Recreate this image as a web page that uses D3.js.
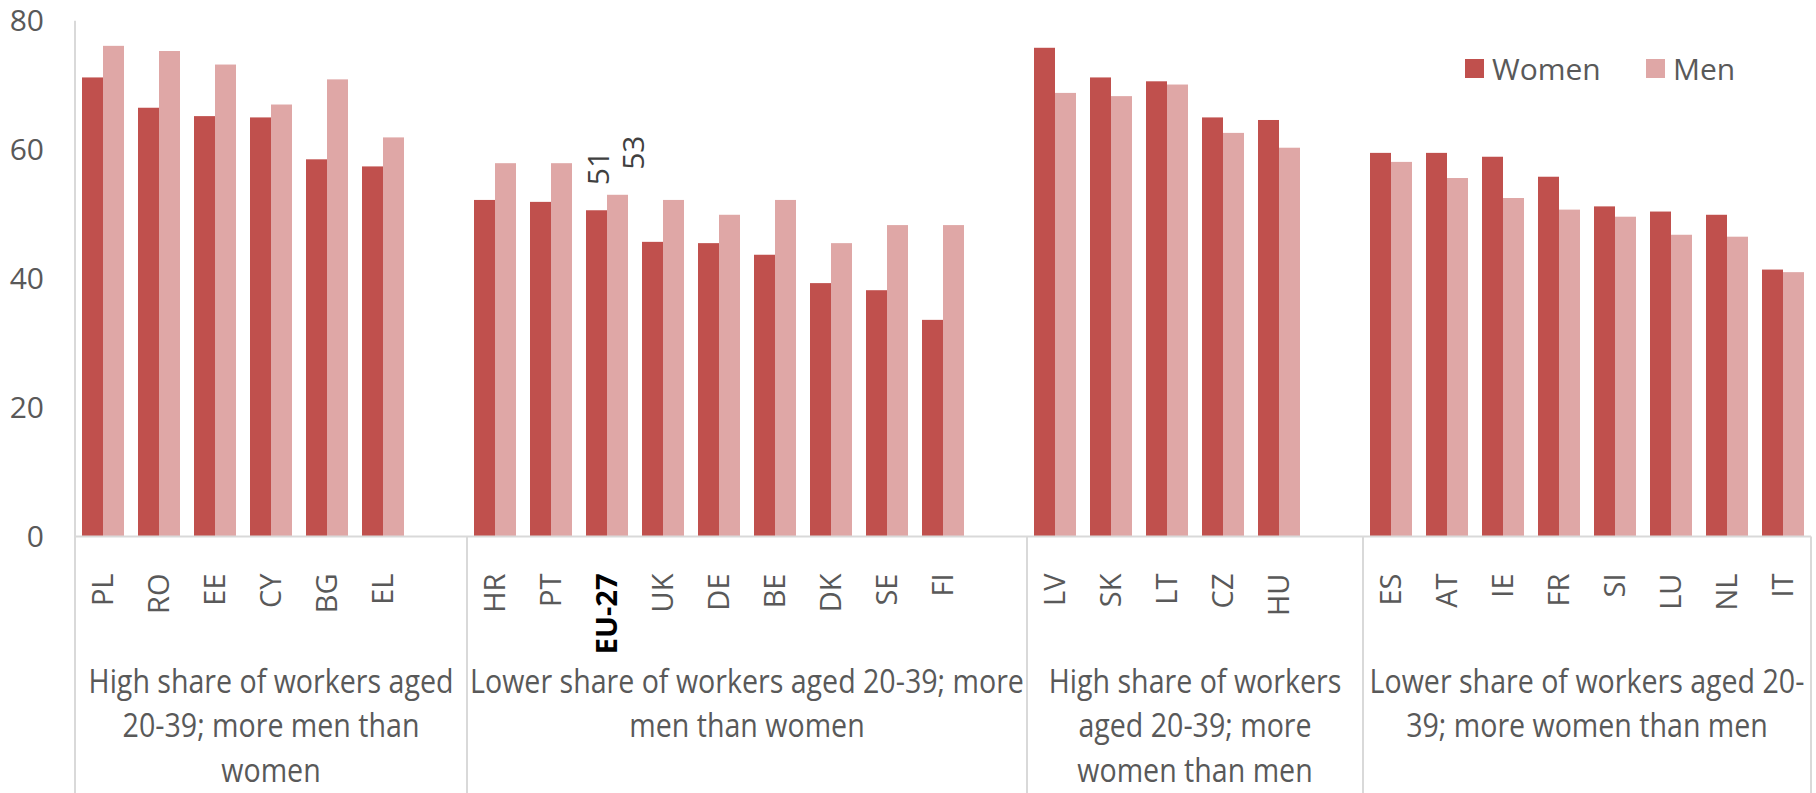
<!DOCTYPE html>
<html>
<head>
<meta charset="utf-8">
<script src="https://cdn.jsdelivr.net/npm/d3@7"></script>
<style>
  body { margin: 0; background: #fff; }
  text { fill: #595959; }
</style>
</head>
<body>
<div id="chart"></div>
<script>
// DATA
var series = ["Women", "Men"];

var groupLabels = [
    ["High share of workers aged", "20-39; more men than", "women"],
    ["Lower share of workers aged 20-39; more", "men than women"],
    ["High share of workers", "aged 20-39; more", "women than men"],
    ["Lower share of workers aged 20-", "39; more women than men"]
];

var g1Countries = ["PL", "RO", "EE", "CY", "BG", "EL"],
    g2Countries = ["HR", "PT", "EU-27", "UK", "DE", "BE", "DK", "SE", "FI"],
    g3Countries = ["LV", "SK", "LT", "CZ", "HU"],
    g4Countries = ["ES", "AT", "IE", "FR", "SI", "LU", "NL", "IT"];

var women = [71.2, 66.5, 65.2, 65.0, 58.5, 57.4,
             52.2, 51.9, 50.6, 45.7, 45.5, 43.7, 39.3, 38.2, 33.6,
             75.8, 71.2, 70.6, 65.0, 64.6,
             59.5, 59.5, 58.9, 55.8, 51.2, 50.4, 49.9, 41.4];
var men   = [76.1, 75.3, 73.2, 67.0, 70.9, 61.9,
             57.9, 57.9, 53.0, 52.2, 49.9, 52.2, 45.5, 48.3, 48.3,
             68.8, 68.3, 70.1, 62.6, 60.3,
             58.1, 55.6, 52.5, 50.7, 49.6, 46.8, 46.5, 41.0];

var yTicks = [0, 20, 40, 60, 80];
var labelled = ["EU-27"];   // countries that get value labels

var width = 1816,
    height = 793;

var colors = {"Women": "#c0504d", "Men": "#dfa7a6"};

var svg = d3.select("#chart").append("svg")
            .attr("width", width)
            .attr("height", height)
            .style("font-family", "'Open Sans', sans-serif");

// BUILD SLOTS - every group but the last ends with an empty slot
var groups = [g1Countries, g2Countries, g3Countries, g4Countries];
var slots = [], rows = [], groupSpans = [];
var k = 0;
groups.forEach(function(list, gi){
    var first = list[0], last;
    list.forEach(function(c){
        slots.push(c);
        rows.push({country: c, group: gi, Women: women[k], Men: men[k]});
        k++;
    });
    last = list[list.length - 1];
    if (gi < groups.length - 1) {
        slots.push("gap" + gi);
        last = "gap" + gi;
    }
    groupSpans.push({first: first, last: last, lines: groupLabels[gi]});
});

// SCALES
var x = d3.scaleBand()
    .domain(slots)
    .range([75, 1811])
    .padding(0);

var x1 = d3.scaleBand()
    .domain(series)
    .range([0, x.bandwidth()])
    .paddingInner(0)
    .paddingOuter(1/3);

var y = d3.scaleLinear()
    .domain([0, 80])
    .range([536.5, 20.7]);

var lineColor = "#d9d9d9";

// BARS
var bars = svg.append("g").attr("class", "bars")
    .selectAll("g")
    .data(rows)
  .enter().append("g")
    .attr("transform", function(d){ return "translate(" + x(d.country) + ",0)"; });

bars.selectAll("rect")
    .data(function(d){ return series.map(function(s){ return {key: s, value: d[s]}; }); })
  .enter().append("rect")
    .attr("x", function(d){ return x1(d.key); })
    .attr("y", function(d){ return y(d.value); })
    .attr("width", x1.bandwidth())
    .attr("height", function(d){ return y(0) - y(d.value); })
    .style("fill", function(d){ return colors[d.key]; });

// VALUE LABELS (rotated)
var labelShift = {"Women": 2, "Men": 16};
svg.append("g").attr("class", "values")
    .selectAll("text")
    .data(rows.filter(function(d){ return labelled.indexOf(d.country) > -1; })
        .reduce(function(acc, d){
            series.forEach(function(s){ acc.push({country: d.country, key: s, value: d[s]}); });
            return acc;
        }, []))
  .enter().append("text")
    .attr("transform", function(d){
        var cx = x(d.country) + x1(d.key) + x1.bandwidth() / 2 + labelShift[d.key];
        return "translate(" + cx + "," + (y(d.value) - 25) + ") rotate(-90)";
    })
    .attr("dy", "0.35em")
    .style("font-size", "30px")
    .style("fill", "#404040")
    .text(function(d){ return d3.format(".0f")(d.value); });

// Y AXIS
var yAxis = svg.append("g")
    .attr("transform", "translate(75,0)")
    .call(d3.axisLeft(y).tickValues(yTicks).tickSize(0).tickPadding(31));
yAxis.select(".domain").remove();
yAxis.selectAll("text")
    .style("font-size", "30px")
    .style("font-family", "'Open Sans', sans-serif")
    .style("fill", "#595959");

// X AXIS - country labels
var xAxis = svg.append("g")
    .attr("transform", "translate(0," + y(0) + ")")
    .call(d3.axisBottom(x)
        .tickValues(rows.map(function(d){ return d.country; }))
        .tickSize(0));
xAxis.select(".domain").remove();
xAxis.selectAll("text")
    .attr("x", 0)
    .attr("y", 0)
    .attr("dy", "0.35em")
    .attr("transform", "translate(0,37) rotate(-90)")
    .attr("text-anchor", "end")
    .style("font-size", "29px")
    .style("font-family", "'Open Sans', sans-serif")
    .style("font-weight", function(d){ return d == "EU-27" ? "bold" : "normal"; })
    .style("fill", function(d){ return d == "EU-27" ? "#000" : "#595959"; });

// AXIS LINES + GROUP SEPARATORS
var frame = svg.append("g").attr("class", "frame")
    .style("stroke", lineColor)
    .style("stroke-width", 2);

frame.append("line")
    .attr("x1", 75).attr("x2", 75)
    .attr("y1", y(80)).attr("y2", height);

frame.append("line")
    .attr("x1", 75).attr("x2", x.range()[1])
    .attr("y1", y(0)).attr("y2", y(0));

frame.selectAll(".sep")
    .data(groupSpans)
  .enter().append("line")
    .attr("class", "sep")
    .attr("x1", function(d){ return x(d.last) + x.bandwidth(); })
    .attr("x2", function(d){ return x(d.last) + x.bandwidth(); })
    .attr("y1", y(0))
    .attr("y2", height);

// GROUP LABELS - a narrow look: squeeze horizontally so the widest line fits its group
var groupText = svg.append("g").attr("class", "group-labels")
    .selectAll("text")
    .data(groupSpans)
  .enter().append("text")
    .attr("text-anchor", "middle")
    .style("font-family", "'Open Sans', sans-serif")
    .style("font-size", "32px")
    .style("fill", "#595959");

groupText.selectAll("tspan")
    .data(function(d){ return d.lines.map(function(l, i){ return {text: l, i: i}; }); })
  .enter().append("tspan")
    .attr("x", 0)
    .attr("y", function(d){ return 693 + d.i * 44.5; })
    .text(function(d){ return d.text; });

var squeeze = 1;
groupText.each(function(d){
    var span = x(d.last) + x.bandwidth() - x(d.first) - 6;
    d3.select(this).selectAll("tspan").each(function(){
        var len = this.getComputedTextLength();
        if (len > 0) squeeze = Math.min(squeeze, span / len);
    });
});

groupText.attr("transform", function(d){
    var mid = (x(d.first) + x(d.last) + x.bandwidth()) / 2;
    return "translate(" + mid + ",0) scale(" + squeeze + ",1)";
});

// LEGEND
var legend = svg.append("g").attr("class", "legend")
    .selectAll("g")
    .data(series)
  .enter().append("g")
    .attr("transform", function(d, i){ return "translate(" + (1465 + i * 181) + ",59)"; });

legend.append("rect")
    .attr("width", 19)
    .attr("height", 19)
    .style("fill", function(d){ return colors[d]; });

legend.append("text")
    .attr("x", 27)
    .attr("y", 10)
    .attr("dy", "0.35em")
    .style("font-size", "30px")
    .style("fill", "#595959")
    .text(function(d){ return d; });
</script>
</body>
</html>
